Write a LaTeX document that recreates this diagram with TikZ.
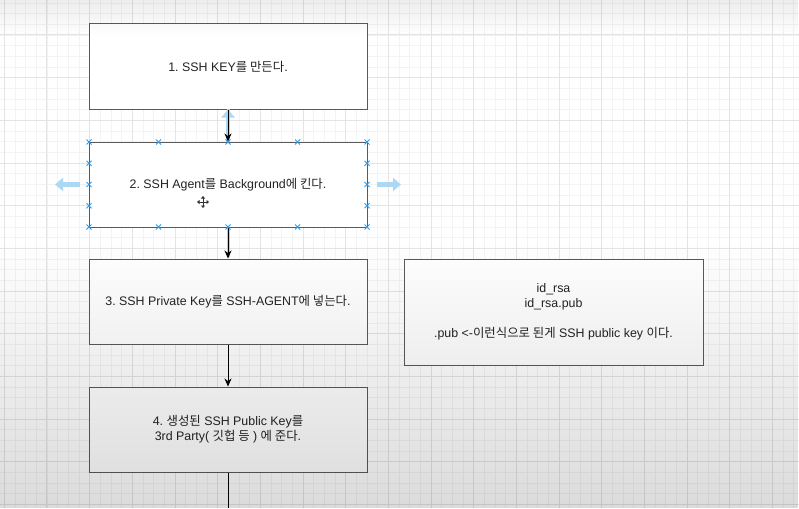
\documentclass[tikz,border=0pt]{standalone}
\usepackage{fontspec}
\setmainfont{Liberation Sans}
\newfontfamily\kofont{Noto Sans CJK KR}
\newcommand{\ko}[1]{{\kofont #1}}
\frenchspacing
\usetikzlibrary{arrows.meta,fadings}
\definecolor{ink}{RGB}{35,35,35}
\definecolor{edgegray}{RGB}{90,90,90}
\definecolor{gridmin}{RGB}{243,243,243}
\definecolor{gridmaj}{RGB}{228,228,228}
\definecolor{hoverblue}{RGB}{172,216,245}
\definecolor{selblue}{RGB}{70,150,215}
\definecolor{handleblue}{RGB}{45,155,235}
\tikzset{
  stepbox/.style={
    draw=edgegray, line width=1pt, fill=white,
    minimum width=278pt, minimum height=85pt, inner sep=0pt,
    align=center, font=\fontsize{12.4}{15}\selectfont, text=ink,
  },
  notebox/.style={
    stepbox, minimum width=299pt, minimum height=106pt,
  },
  gridminor/.style={draw=gridmin, line width=0.8pt},
  gridmajor/.style={draw=gridmaj, line width=1pt},
  flow/.style={-{Stealth[length=8pt,width=7pt]}, line width=0.9pt, draw=black},
  selline/.style={line width=3pt, draw=selblue!45, shorten >=2pt},
  hoverarr/.style={-{Triangle[length=8pt,width=13pt]}, line width=4.5pt, draw=hoverblue},
  handlemark/.style={draw=handleblue, line width=0.9pt},
  cursormark/.style={{Triangle[length=2.5pt,width=4pt]}-{Triangle[length=2.5pt,width=4pt]}, line width=1pt, draw=black!80},
}
\newcommand{\handle}[2]{\draw[handlemark] (#1-2.5,#2-2.5) -- ++(5,5) ++(0,-5) -- ++(-5,5);}

\begin{document}
\begin{tikzpicture}[x=1pt,y=-1pt]
  \useasboundingbox (0,0) rectangle (799,508);
  \fill[white] (0,0) rectangle (799,508);

  % grid
  \foreach \i in {0,...,74} \draw[gridminor] ({4.33+10.667*\i},0) -- ++(0,508);
  \foreach \j in {0,...,47} \draw[gridminor] (0,{3+10.667*\j}) -- ++(799,0);
  \foreach \i in {0,4,...,72} \draw[gridmajor] ({4.33+10.667*\i},0) -- ++(0,508);
  \foreach \j in {3,7,...,47} \draw[gridmajor] (0,{3+10.667*\j}) -- ++(799,0);

  % steps
  \node[stepbox] (make) at (228,66.5) {1. SSH KEY\ko{를 만든다}.};
  \node[stepbox] (agent) at (228,184.5) {2. SSH Agent\ko{를} Background\ko{에 킨다}.};
  \node[stepbox] (add) at (228,301.5) {3. SSH Private Key\ko{를} SSH-AGENT\ko{에 넣는다}.};
  \node[stepbox] (give) at (228,429.5) {4. \ko{생성된} SSH Public Key\ko{를}\\3rd Party( \ko{깃헙 등} ) \ko{에 준다}.};
  \node[notebox] (note) at (553.5,312) {id\_rsa\\id\_rsa.pub\\[15pt].pub <-\ko{이런식으로 된게} SSH public key \ko{이다}.};
  \coordinate (tail) at (228,508);

  % hover arrows
  \coordinate (hovl) at (55,184.5);
  \coordinate (hovr) at (401,184.5);
  \draw[hoverarr] (agent.north) -- (make.south);
  \draw[hoverarr] ([xshift=-9pt]agent.west) -- (hovl);
  \draw[hoverarr] ([xshift=9pt]agent.east) -- (hovr);

  % connectors
  \draw[selline] ([yshift=1pt]make.south) -- (agent.north);
  \draw[selline] (agent.south) -- (add.north);
  \draw[flow] (make) -- (agent);
  \draw[flow] (agent) -- (add);
  \draw[flow] (add) -- (give);
  \draw[line width=0.9pt] (give) -- (tail);

  % selection handles
  \foreach \x in {89,158.5,228,297.5,367} {\handle{\x}{142}\handle{\x}{227}}
  \foreach \y in {163.25,184.5,205.75} {\handle{89}{\y}\handle{367}{\y}}

  % cursor
  \draw[cursormark] (197,202) -- (209,202);
  \draw[cursormark] (203,196) -- (203,208);

  % screen shading
  \fill[black, opacity=0.14, path fading=north] (0,240) rectangle (799,508);
  \fill[black, opacity=0.07, path fading=south] (0,0) rectangle (799,36);
\end{tikzpicture}
\end{document}
